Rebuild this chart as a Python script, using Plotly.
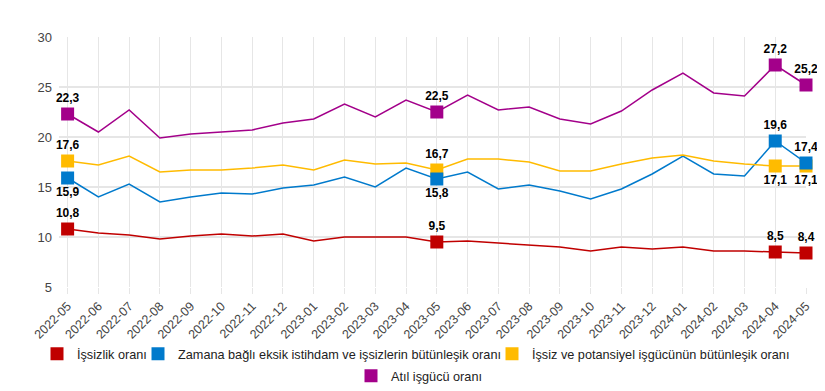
import plotly.graph_objects as go

months = ["2022-05","2022-06","2022-07","2022-08","2022-09","2022-10","2022-11","2022-12",
          "2023-01","2023-02","2023-03","2023-04","2023-05","2023-06","2023-07","2023-08",
          "2023-09","2023-10","2023-11","2023-12","2024-01","2024-02","2024-03","2024-04","2024-05"]

issizlik = [10.8,10.4,10.2,9.8,10.1,10.3,10.1,10.3,9.6,10.0,10.0,10.0,9.5,9.6,9.4,9.2,9.0,8.6,9.0,8.8,9.0,8.6,8.6,8.5,8.4]
zamana = [15.9,14.0,15.3,13.5,14.0,14.4,14.3,14.9,15.2,16.0,15.0,16.9,15.8,16.5,14.8,15.2,14.6,13.8,14.8,16.3,18.1,16.3,16.1,19.6,17.4]
potansiyel = [17.6,17.2,18.1,16.5,16.7,16.7,16.9,17.2,16.7,17.7,17.3,17.4,16.7,17.8,17.8,17.5,16.6,16.6,17.3,17.9,18.2,17.6,17.3,17.1,17.1]
atil = [22.3,20.5,22.7,19.9,20.3,20.5,20.7,21.4,21.8,23.3,22.0,23.7,22.5,24.2,22.7,23.0,21.8,21.3,22.6,24.7,26.4,24.4,24.1,27.2,25.2]

names = ["İşsizlik oranı",
         "Zamana bağlı eksik istihdam ve işsizlerin bütünleşik oranı",
         "İşsiz ve potansiyel işgücünün bütünleşik oranı",
         "Atıl işgücü oranı"]
colors = ["#C00000", "#007ACC", "#FFBB00", "#A3008A"]
highlight = [0, 12, 23, 24]
label_pos = [
    ["top center"] * 4,
    ["bottom center", "bottom center", "top center", "top center"],
    ["top center", "top center", "bottom center", "bottom center"],
    ["top center"] * 4,
]
y_ticks = [5, 10, 15, 20, 25, 30]

series = [issizlik, zamana, potansiyel, atil]
fig = go.Figure()

FONT = "Liberation Sans, Arial, sans-serif"

for vals, col in zip(series, colors):
    fig.add_trace(go.Scatter(x=months, y=vals, mode="lines",
                             line=dict(color=col, width=1.5),
                             showlegend=False, hoverinfo="skip"))
order = [0, 2, 1, 3]
for i in order:
    vals = series[i]
    fig.add_trace(go.Scatter(
        x=[months[k] for k in highlight], y=[vals[k] for k in highlight],
        mode="markers+text", marker=dict(symbol="square", size=13, color=colors[i]),
        text=[f"{vals[k]:.1f}".replace(".", ",") for k in highlight],
        textposition=label_pos[i],
        textfont=dict(family=FONT, size=12, color="#000000", weight="bold"),
        showlegend=False, cliponaxis=False))

legend_keys = ["legend", "legend2", "legend3", "legend4"]
for nm, col, key in zip(names, colors, legend_keys):
    fig.add_trace(go.Scatter(x=[None], y=[None], mode="markers", name=nm,
                             marker=dict(symbol="square", size=13, color=col),
                             legend=key))

# legend placement (left edge px, center y px)
legend_px = [(29, 346), (130, 346), (484, 346), (343, 368)]
legend_layout = {}
for key, (lx, ly) in zip(legend_keys, legend_px):
    legend_layout[key] = dict(orientation="h", x=lx / 825, xanchor="left", xref="container",
                              y=1 - ly / 391, yanchor="middle", yref="container",
                              font=dict(size=12.7, color="#222222"), itemwidth=30,
                              bgcolor="rgba(0,0,0,0)")

fig.update_layout(
    width=825, height=391,
    margin=dict(l=51, r=27, t=29, b=112, autoexpand=False),
    plot_bgcolor="white", paper_bgcolor="white",
    font=dict(family=FONT, size=13, color="#333333"),
    xaxis=dict(type="category", range=[-0.28, 24], tickangle=-45,
               showgrid=True, gridcolor="#e6e6e6", gridwidth=1,
               ticks="outside", ticklen=6, tickcolor="#e6e6e6",
               tickfont=dict(size=12.5, color="#444444"), showline=False, zeroline=False),
    yaxis=dict(range=[5, 30], tickvals=y_ticks, showgrid=True, gridcolor="#e6e6e6",
               gridwidth=2, zeroline=False, showline=False,
               tickfont=dict(size=13, color="#444444"), ticks="", ticklabelstandoff=6),
    **legend_layout,
)

fig.write_html("out.html")
